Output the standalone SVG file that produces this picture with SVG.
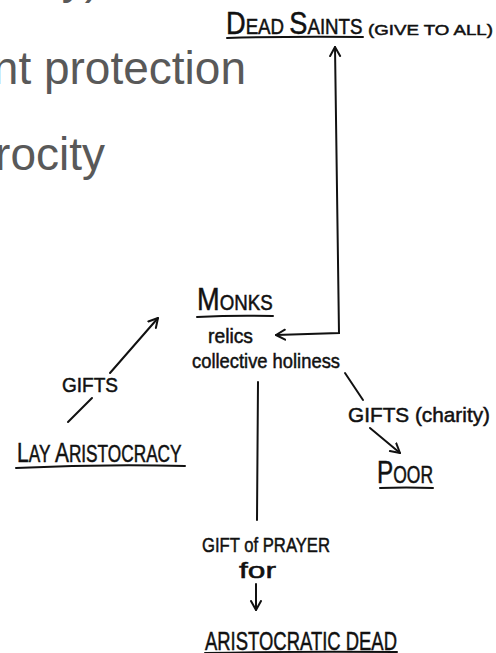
<svg xmlns="http://www.w3.org/2000/svg" width="496" height="653" viewBox="0 0 496 653">
<style>
.slide{font-family:"Liberation Sans",Arial,sans-serif;fill:#595959;font-size:46px}
.hw{font-family:"Liberation Sans",Arial,sans-serif;fill:#111;stroke:#111;stroke-width:0.5}
.ul{fill:none;stroke:#111;stroke-width:2;stroke-linecap:round}
.con path{fill:none;stroke:#111;stroke-width:2;stroke-linecap:round}
</style>
<defs>
<marker id="ah" markerUnits="userSpaceOnUse" markerWidth="14" markerHeight="14" refX="10" refY="6" orient="auto-start-reverse" viewBox="0 0 14 12">
<path d="M1,1 L10,6 L1,11" fill="none" stroke="#111" stroke-width="2" stroke-linecap="round" stroke-linejoin="round"/>
</marker>
</defs>
<rect width="496" height="653" fill="#fff"/>
<g id="slide-text">
<text class="slide" x="100" y="-7" text-anchor="end">y)</text>
<text class="slide" x="246" y="84" text-anchor="end">nt protection</text>
<text class="slide" x="105" y="170" text-anchor="end">rocity</text>
</g>
<g id="dead-saints">
<text class="hw" transform="translate(226,34) scale(0.85,1)"><tspan font-size="32">D</tspan><tspan font-size="22">EAD </tspan><tspan font-size="32">S</tspan><tspan font-size="22">AINTS</tspan></text>
<path class="ul" d="M227,38 Q295,36 363,37"/>
<text class="hw" x="368" y="35" font-size="15" textLength="125" lengthAdjust="spacingAndGlyphs">(GIVE TO ALL)</text>
</g>
<g id="monks">
<text class="hw" transform="translate(197,310) scale(0.85,1)"><tspan font-size="32">M</tspan><tspan font-size="22">ONKS</tspan></text>
<path class="ul" d="M197,317 Q235,315 273,316"/>
<text class="hw" x="208" y="343" font-size="21" textLength="45" lengthAdjust="spacingAndGlyphs">relics</text>
<text class="hw" x="192" y="368" font-size="21" textLength="148" lengthAdjust="spacingAndGlyphs">collective holiness</text>
</g>
<g id="lay-aristocracy">
<text class="hw" transform="translate(17,462) scale(0.75,1)"><tspan font-size="28">L</tspan><tspan font-size="23">AY </tspan><tspan font-size="28">A</tspan><tspan font-size="23">RISTOCRACY</tspan></text>
<path class="ul" d="M16,468 Q100,464 185,466"/>
</g>
<g id="poor">
<text class="hw" transform="translate(377,483) scale(0.76,1)"><tspan font-size="32">P</tspan><tspan font-size="23">OOR</tspan></text>
<path class="ul" d="M380,488 Q406,487 433,488"/>
</g>
<g id="aristocratic-dead">
<text class="hw" x="205" y="650" font-size="26" textLength="192" lengthAdjust="spacingAndGlyphs">ARISTOCRATIC DEAD</text>
<path class="ul" d="M205,653 Q300,651 397,652"/>
</g>
<g class="con" id="connectors">
<path d="M335,47 L339,333 L276,335" marker-start="url(#ah)" marker-end="url(#ah)"/>
<path d="M68,422 L92,398"/>
<path d="M110,373 L158,318" marker-end="url(#ah)"/>
<text class="hw" x="62" y="392" font-size="20" textLength="56" lengthAdjust="spacingAndGlyphs">GIFTS</text>
<path d="M345,373 L363,400"/>
<path d="M370,428 L400,453" marker-end="url(#ah)"/>
<text class="hw" x="348" y="422" font-size="21" textLength="142" lengthAdjust="spacingAndGlyphs">GIFTS (charity)</text>
<path d="M258,382 L257,520"/>
<text class="hw" x="202" y="552" font-size="21" textLength="128" lengthAdjust="spacingAndGlyphs">GIFT of PRAYER</text>
<text class="hw" x="239" y="578" font-size="22" textLength="37" lengthAdjust="spacingAndGlyphs">for</text>
<path d="M256,584 L256,610" marker-end="url(#ah)"/>
</g>
</svg>
